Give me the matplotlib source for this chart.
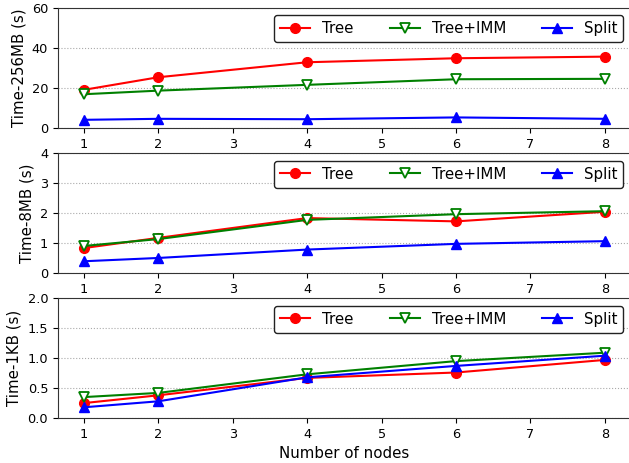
import numpy as np
import matplotlib.pyplot as plt

nodes = [1, 2, 4, 6, 8]

tree_256mb = [19.0, 25.3, 32.8, 34.8, 35.6]
imm_256mb = [16.8, 18.6, 21.5, 24.3, 24.5]
split_256mb = [4.0, 4.5, 4.3, 5.2, 4.5]

tree_8mb = [0.83, 1.17, 1.83, 1.72, 2.04]
imm_8mb = [0.90, 1.13, 1.77, 1.96, 2.06]
split_8mb = [0.39, 0.50, 0.78, 0.97, 1.06]

tree_1kb = [0.25, 0.38, 0.67, 0.76, 0.97]
imm_1kb = [0.35, 0.42, 0.73, 0.95, 1.09]
split_1kb = [0.18, 0.28, 0.68, 0.87, 1.04]

panels = [
    ('Time-256MB (s)', [0, 60], [0, 20, 40, 60], tree_256mb, imm_256mb, split_256mb),
    ('Time-8MB (s)', [0, 4], [0, 1, 2, 3, 4], tree_8mb, imm_8mb, split_8mb),
    ('Time-1KB (s)', [0, 2], [0, 0.5, 1.0, 1.5, 2.0], tree_1kb, imm_1kb, split_1kb),
]

fig, axes = plt.subplots(3, 1, figsize=(6.29, 4.63), dpi=100)
plt.subplots_adjust(left=0.092, right=1.003, top=0.983, bottom=0.097, hspace=0.21)

for ax, (ylabel, ylim, yticks, tree, imm, split) in zip(axes, panels):
    ax.plot(nodes, tree, color='red', marker='o', markersize=7, linewidth=1.5, label='Tree')
    ax.plot(nodes, imm, color='green', marker='v', markersize=7, markerfacecolor='white',
            markeredgewidth=1.3, linewidth=1.5, label='Tree+IMM')
    ax.plot(nodes, split, color='blue', marker='^', markersize=7, linewidth=1.5, label='Split')
    ax.set_ylim(ylim)
    ax.set_yticks(yticks)
    if ylim[1] == 2:
        ax.set_yticklabels(['%.1f' % t for t in yticks])
    ax.set_xticks(range(1, 9))
    ax.set_xlim(0.65, 8.35)
    ax.set_ylabel(ylabel, fontsize=10.8)
    ax.tick_params(labelsize=9.3)
    for s in ax.spines.values():
        s.set_color('#333333')
    ax.yaxis.grid(True, linestyle=':', color='#aaaaaa', linewidth=0.8)
    ax.set_axisbelow(True)
    leg = ax.legend(loc='upper right', ncol=3, fontsize=10.8, framealpha=1,
                    edgecolor='#222222', borderaxespad=0.5, columnspacing=2.4)
    leg.get_frame().set_linewidth(1.0)

axes[2].set_xlabel('Number of nodes', fontsize=10.8)

plt.savefig('out.png', dpi=100)
